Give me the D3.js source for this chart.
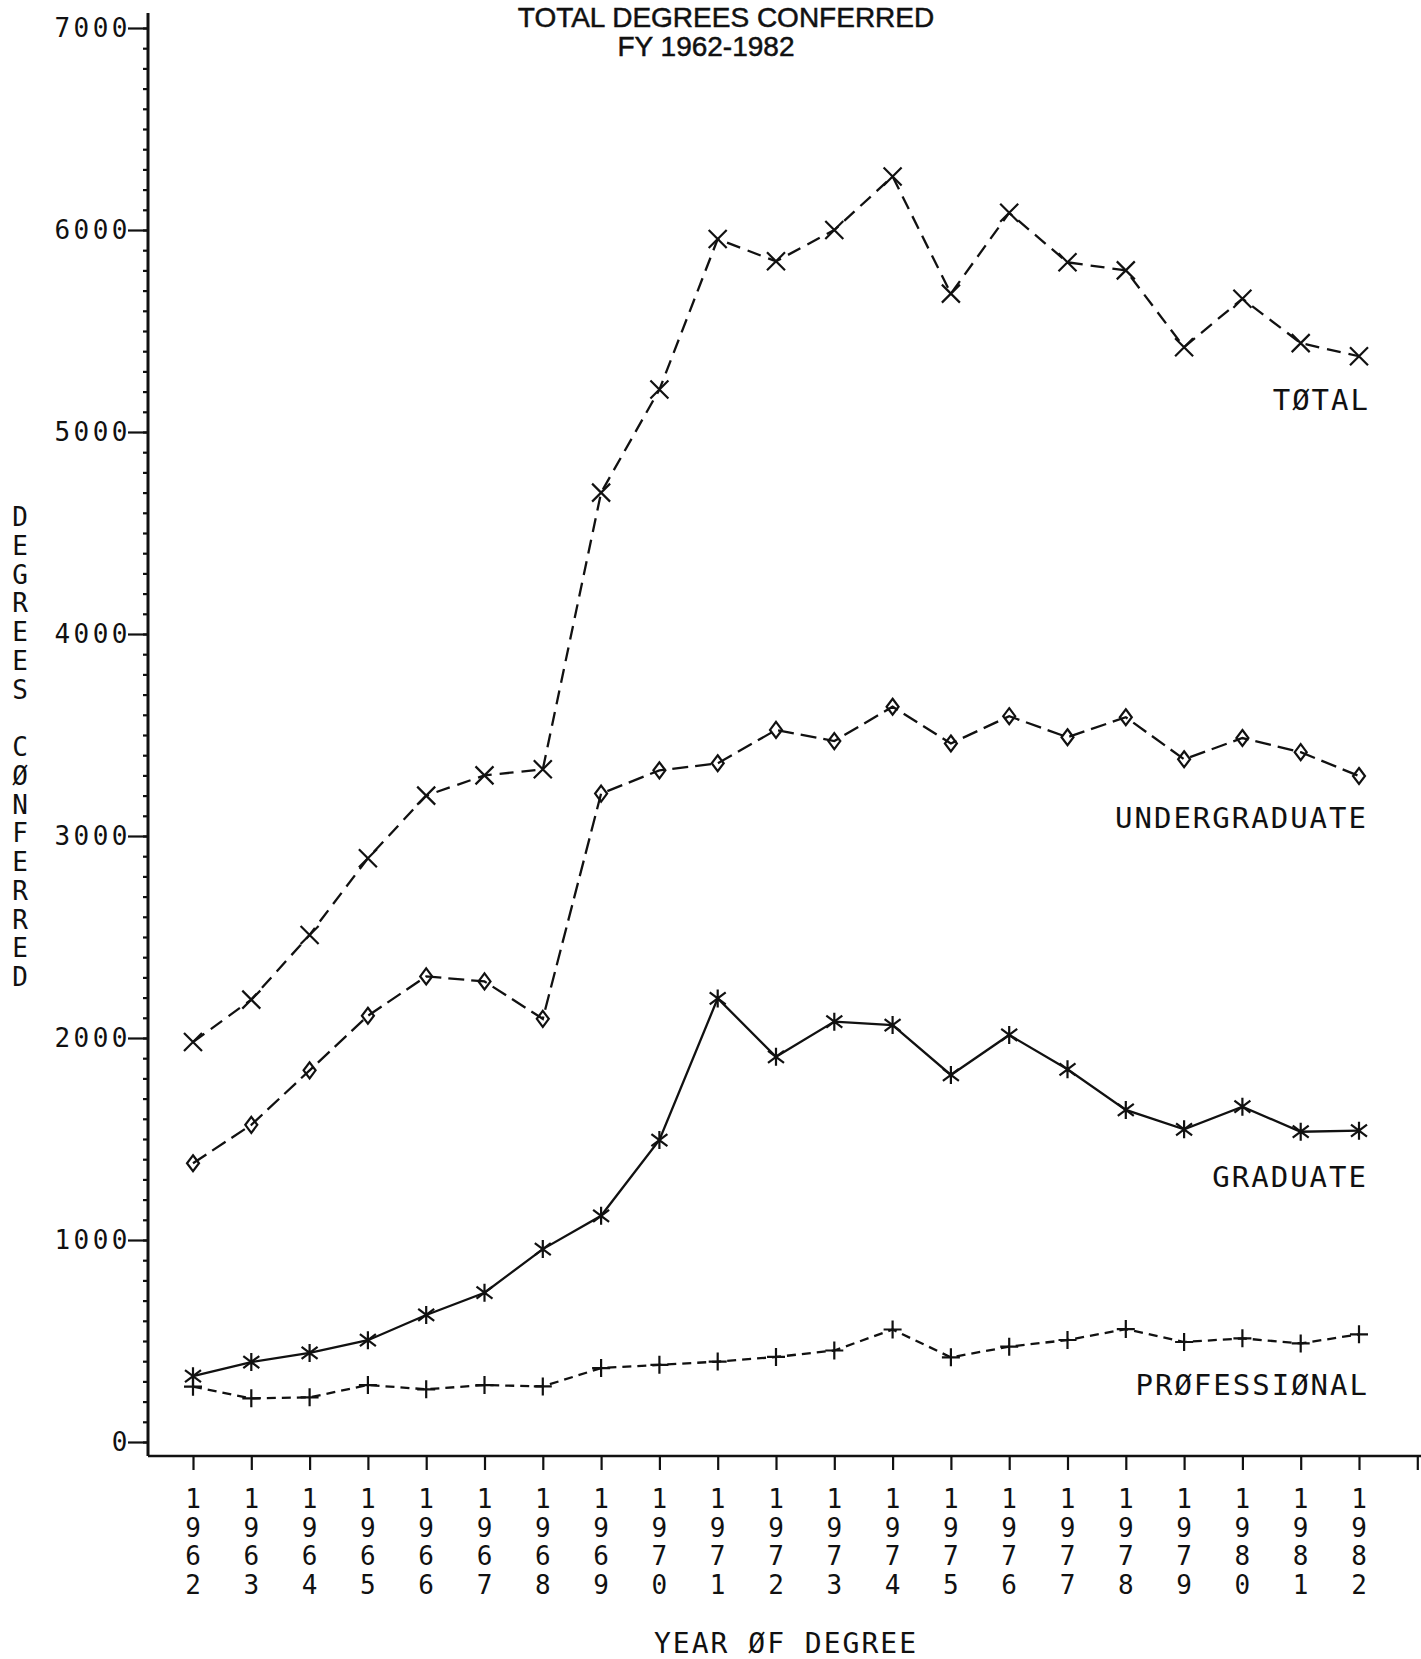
<!DOCTYPE html>
<html>
<head>
  <meta charset="utf-8">
  <title>Total Degrees Conferred</title>
  <script src="https://d3js.org/d3.v7.min.js"></script>
  <style>
    body { margin: 0; background: white; }
    .plot { font-family: "DejaVu Sans Mono", monospace; fill: #111; }
    .title { font-family: "Liberation Sans", Arial, sans-serif; fill: #111; stroke: #111; stroke-width: 0.5; }
  </style>
</head>
<body>
<div id="chart"></div>
<script>
var width = 1421;
var height = 1659;

// ----- Data -----

var years = [1962, 1963, 1964, 1965, 1966, 1967, 1968, 1969, 1970, 1971, 1972,
             1973, 1974, 1975, 1976, 1977, 1978, 1979, 1980, 1981, 1982];
var total = [1980, 2190, 2510, 2890, 3200, 3300, 3330, 4700, 5210, 5955, 5845,
             6000, 6265, 5685, 6085, 5840, 5800, 5420, 5660, 5440, 5375];
var undergraduate = [1380, 1570, 1840, 2110, 2305, 2280, 2095, 3210, 3325, 3360, 3525,
                     3470, 3640, 3458, 3593, 3489, 3588, 3380, 3485, 3415, 3297];
var graduate = [326, 396, 441, 504, 629, 739, 955, 1120, 1495, 2196, 1907,
                2081, 2064, 1817, 2015, 1845, 1644, 1548, 1660, 1536, 1541];
var professional = [274, 216, 221, 282, 261, 282, 275, 366, 382, 398, 421,
                    453, 557, 419, 472, 505, 559, 495, 513, 488, 533];
var yMajor = [0, 1000, 2000, 3000, 4000, 5000, 6000, 7000];
var seriesNames = ['TØTAL', 'UNDERGRADUATE', 'GRADUATE', 'PRØFESSIØNAL'];

// ----- Scales -----

var x = d3.scaleLinear().domain([1962, 1982]).range([193, 1359]);
var y = d3.scaleLinear().domain([0, 7000]).range([1442, 28]);
var axisX = 148, axisY = 1456;

var svg = d3.select('#chart').append('svg')
  .attr('width', width)
  .attr('height', height);

// ----- Title -----

svg.append('text').attr('class', 'title')
  .attr('x', 726).attr('y', 27)
  .attr('text-anchor', 'middle')
  .attr('font-size', 28)
  .text('TOTAL DEGREES CONFERRED');
svg.append('text').attr('class', 'title')
  .attr('x', 706).attr('y', 56)
  .attr('text-anchor', 'middle')
  .attr('font-size', 28)
  .text('FY 1962-1982');

// ----- Axes -----

// minor ticks every 100
var yMinor = svg.append('g')
  .attr('transform', `translate(${axisX},0)`)
  .call(d3.axisLeft(y).tickValues(d3.range(0, 7001, 100)).tickSize(5).tickSizeOuter(0).tickFormat(''));
yMinor.select('.domain').remove();

var yAxis = svg.append('g')
  .attr('transform', `translate(${axisX},0)`)
  .call(d3.axisLeft(y).tickValues(yMajor).tickSize(20).tickSizeOuter(0).tickFormat(d3.format('d')));
yAxis.select('.domain').remove();
yAxis.selectAll('.tick text')
  .attr('class', 'plot')
  .attr('x', -17)
  .attr('font-size', 26)
  .attr('letter-spacing', 3.5);

svg.selectAll('.tick line').attr('stroke', '#111').attr('stroke-width', 2.2);

// axis lines
svg.append('line')
  .attr('x1', axisX).attr('x2', axisX)
  .attr('y1', axisY).attr('y2', 13)
  .attr('stroke', '#111').attr('stroke-width', 3);
svg.append('line')
  .attr('x1', axisX).attr('x2', width)
  .attr('y1', axisY).attr('y2', axisY)
  .attr('stroke', '#111').attr('stroke-width', 2.6);

var xAxis = svg.append('g')
  .attr('transform', `translate(0,${axisY})`)
  .call(d3.axisBottom(x).tickValues(d3.range(1962, 1984)).tickSize(14).tickSizeOuter(0).tickFormat(''));
xAxis.select('.domain').remove();
xAxis.selectAll('.tick line').attr('stroke', '#111').attr('stroke-width', 2.2);

// year labels, one digit per line
var yearLabels = svg.selectAll('.yearlab')
  .data(years)
  .enter().append('text')
  .attr('class', 'plot yearlab')
  .attr('text-anchor', 'middle')
  .attr('font-size', 26)
  .attr('y', 1508);
yearLabels.each(function(d) {
  var t = d3.select(this);
  String(d).split('').forEach(function(ch, i) {
    t.append('tspan')
      .attr('x', x(d))
      .attr('dy', i === 0 ? 0 : 28.6)
      .text(ch);
  });
});

// axis titles
svg.append('text').attr('class', 'plot')
  .attr('x', 786).attr('y', 1653)
  .attr('text-anchor', 'middle')
  .attr('font-size', 28)
  .attr('letter-spacing', 2)
  .text('YEAR ØF DEGREE');

var ytitle = svg.append('text').attr('class', 'plot')
  .attr('text-anchor', 'middle')
  .attr('font-size', 26)
  .attr('y', 526);
'DEGREES CØNFERRED'.split('').forEach(function(ch, i) {
  ytitle.append('tspan')
    .attr('x', 20)
    .attr('dy', i === 0 ? 0 : 28.75)
    .text(ch === ' ' ? '\u00a0' : ch);
});

// ----- Series -----

var markers = {
  cross: 'M-9,-9L9,9M-9,9L9,-9',
  diamond: 'M0,-8L6,0L0,8L-6,0Z',
  star: 'M0,-9L0,9M-8,-6L8,6M-8,6L8,-6',
  plus: 'M-9,0L9,0M0,-9L0,9'
};

function addSeries(values, dash, marker) {
  var pts = years.map(function(yr, i) { return [yr, values[i]]; });
  var line = d3.line()
    .x(function(d) { return x(d[0]); })
    .y(function(d) { return y(d[1]); });
  svg.append('path')
    .datum(pts)
    .attr('d', line)
    .attr('fill', 'none')
    .attr('stroke', '#111')
    .attr('stroke-width', 2.3)
    .attr('stroke-dasharray', dash);
  svg.append('g').selectAll('path')
    .data(pts)
    .enter().append('path')
    .attr('transform', function(d) { return `translate(${x(d[0])},${y(d[1])})`; })
    .attr('d', markers[marker])
    .attr('fill', 'none')
    .attr('stroke', '#111')
    .attr('stroke-width', 2.2);
}

addSeries(total, '14,8', 'cross');
addSeries(undergraduate, '16,7', 'diamond');
addSeries(graduate, null, 'star');
addSeries(professional, '9,6', 'plus');

// series labels
function addLabel(txt, right, base) {
  svg.append('text').attr('class', 'plot')
    .attr('x', right + 2)
    .attr('y', base)
    .attr('text-anchor', 'end')
    .attr('font-size', 29)
    .attr('letter-spacing', 2)
    .text(txt);
}
addLabel(seriesNames[0], 1368, 410);
addLabel(seriesNames[1], 1366, 828);
addLabel(seriesNames[2], 1366, 1187);
addLabel(seriesNames[3], 1367, 1395);
</script>
</body>
</html>
